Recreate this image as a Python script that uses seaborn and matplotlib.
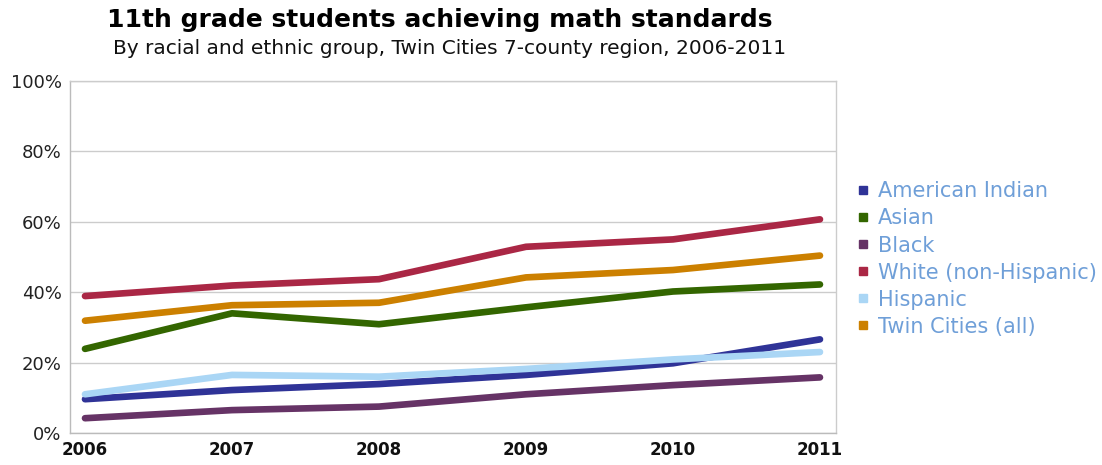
import matplotlib
matplotlib.use("Agg")
import matplotlib.pyplot as plt
from matplotlib.lines import Line2D
import seaborn as sns
import pandas as pd

years = [2006, 2007, 2008, 2009, 2010, 2011]
american_indian = [9.6, 12.2, 13.9, 16.5, 19.8, 26.6]
asian = [23.9, 34.0, 30.9, 35.7, 40.2, 42.2]
black = [4.2, 6.5, 7.5, 11.0, 13.6, 15.8]
white = [38.9, 41.9, 43.7, 52.9, 55.0, 60.7]
hispanic = [11.0, 16.5, 16.0, 18.2, 20.9, 23.0]
twin_cities = [31.9, 36.3, 37.0, 44.2, 46.3, 50.4]

groups = ["American Indian", "Asian", "Black", "White (non-Hispanic)",
          "Hispanic", "Twin Cities (all)"]
series = [american_indian, asian, black, white, hispanic, twin_cities]
colors = ["#2f3397", "#336600", "#663366", "#aa2745", "#aad6f5", "#cc8000"]
y_ticks = [0, 20, 40, 60, 80, 100]
y_labels = ["0%", "20%", "40%", "60%", "80%", "100%"]

rows = []
for g, vals in zip(groups, series):
    for yr, v in zip(years, vals):
        rows.append({"year": yr, "value": v, "group": g})
df = pd.DataFrame(rows)

sns.set_style("white")
plt.rcParams["font.family"] = ["DejaVu Sans"]

fig = plt.figure(figsize=(11.02, 4.65), dpi=100)
ax = fig.add_axes([70 / 1102, 32 / 465, 766 / 1102, 352 / 465])

sns.lineplot(data=df, x="year", y="value", hue="group", hue_order=groups,
             palette=colors, linewidth=4.8, ax=ax, legend=False,
             solid_capstyle="round")

ax.set_xlim(2006 - 0.102, 2011 + 0.109)
ax.set_ylim(0, 100)
ax.set_yticks(y_ticks)
ax.set_yticklabels(y_labels, fontsize=13, color="#222222")
ax.set_xticks(years)
ax.set_xticklabels([str(y) for y in years], fontsize=12, fontweight="bold",
                   color="#111111")
ax.tick_params(axis="both", length=0, pad=6)
ax.set_xlabel("")
ax.set_ylabel("")
ax.grid(axis="y", color="#cccccc", linewidth=1)
ax.set_axisbelow(True)
for s in ax.spines.values():
    s.set_color("#cccccc")
    s.set_linewidth(1)
ax.spines["left"].set_color("#bbbbbb")
ax.spines["bottom"].set_color("#bbbbbb")

handles = [Line2D([], [], marker="s", linestyle="", color=c, markersize=6)
           for c in colors]
leg = fig.legend(handles, groups, loc="upper left",
                 bbox_to_anchor=(848 / 1102, 1 - 173 / 465), frameon=False,
                 fontsize=15, handlelength=0.6, handletextpad=0.45,
                 labelspacing=0.34, borderaxespad=0)
for t in leg.get_texts():
    t.set_color("#6f9fd8")

fig.text(440 / 1102, 1 - 20 / 465, "11th grade students achieving math standards",
         ha="center", va="center", fontsize=18, fontweight="bold", color="#000000")
fig.text(450 / 1102, 1 - 49 / 465,
         "By racial and ethnic group, Twin Cities 7-county region, 2006-2011",
         ha="center", va="center", fontsize=14.5, color="#111111")

fig.savefig("out.png", dpi=100)
